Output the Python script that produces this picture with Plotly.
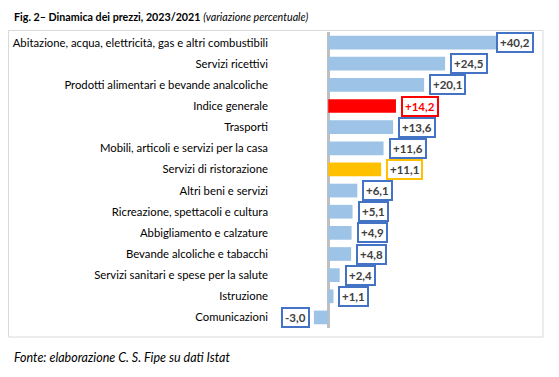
import plotly.graph_objects as go

categories = [
    "Abitazione, acqua, elettricità, gas e altri combustibili",
    "Servizi ricettivi",
    "Prodotti alimentari e bevande analcoliche",
    "Indice generale",
    "Trasporti",
    "Mobili, articoli e servizi per la casa",
    "Servizi di ristorazione",
    "Altri beni e servizi",
    "Ricreazione, spettacoli e cultura",
    "Abbigliamento e calzature",
    "Bevande alcoliche e tabacchi",
    "Servizi sanitari e spese per la salute",
    "Istruzione",
    "Comunicazioni",
]
values = [40.2, 24.5, 20.1, 14.2, 13.6, 11.6, 11.1, 6.1, 5.1, 4.9, 4.8, 2.4, 1.1, -3.0]
labels = ["+40,2", "+24,5", "+20,1", "+14,2", "+13,6", "+11,6", "+11,1",
          "+6,1", "+5,1", "+4,9", "+4,8", "+2,4", "+1,1", "-3,0"]

# page body has an 8px margin: lay out in window pixels, then offset
OFF = 8
W, H = 559 - OFF, 377 - OFF
BLUE = "#9DC3E6"
RED = "#FF0000"
ORANGE = "#FFC000"
BOX = "#4472C4"


def fx(p):
    return (p - OFF) / W


def fy(p):
    return 1 - (p - OFF) / H


bar_colors = []
box_colors = []
text_colors = []
for c in categories:
    if c == "Indice generale":
        bar_colors.append(RED); box_colors.append(RED); text_colors.append(RED)
    elif c == "Servizi di ristorazione":
        bar_colors.append(ORANGE); box_colors.append(ORANGE); text_colors.append("#404040")
    else:
        bar_colors.append(BLUE); box_colors.append(BOX); text_colors.append("#404040")

fig = go.Figure(go.Bar(
    x=values, y=categories, orientation="h",
    marker=dict(color=bar_colors, line=dict(width=0)),
    hoverinfo="skip",
))

px_l, px_r, px_t, px_b = 275, 540, 32, 328
font = "Lato, Open Sans, sans-serif"

annotations = []
for c, v, lab, bc, tc in zip(categories, values, labels, box_colors, text_colors):
    if v < 0:
        anchor, shift = "right", -4
    elif v > 35:
        anchor, shift = "left", -24
    else:
        anchor, shift = "left", 5
    annotations.append(dict(
        x=v, y=c, xref="x", yref="y", text="<b>%s</b>" % lab, showarrow=False,
        xanchor=anchor, xshift=shift, yanchor="middle",
        font=dict(family=font, size=11.5, color=tc),
        bgcolor="white", bordercolor=bc, borderwidth=2, borderpad=2,
    ))

annotations.append(dict(
    x=fx(12), y=1, xref="paper", yref="paper", xanchor="left", yanchor="top",
    text="<b>Fig. 2– Dinamica dei prezzi, 2023/2021</b> <i>(variazione percentuale)</i>",
    showarrow=False, font=dict(family=font, size=10.7, color="black"),
))
annotations.append(dict(
    x=fx(12), y=fy(357), xref="paper", yref="paper", xanchor="left", yanchor="middle",
    text="<i>Fonte: elaborazione C. S. Fipe su dati Istat</i>",
    showarrow=False, font=dict(family=font, size=12.5, color="black"),
))

fig.update_layout(
    width=W, height=H,
    margin=dict(l=0, r=0, t=0, b=0, pad=0),
    paper_bgcolor="white", plot_bgcolor="white",
    showlegend=False, bargap=0.35,
    annotations=annotations,
    shapes=[dict(type="rect", xref="paper", yref="paper",
                 x0=fx(8.5), x1=fx(543), y0=fy(337), y1=fy(30.5),
                 line=dict(color="#D9D9D9", width=1), layer="below")],
    xaxis=dict(domain=[fx(px_l), fx(px_r)], range=[-11.16, 44.4], automargin=False,
               showgrid=False, showticklabels=False, ticks="",
               zeroline=True, zerolinecolor="#BFBFBF", zerolinewidth=2.5),
    yaxis=dict(domain=[fy(px_b), fy(px_t)], autorange="reversed", automargin=False,
               showgrid=False, ticks="", ticklabelstandoff=6,
               tickfont=dict(family=font, size=11.3, color="black")),
)

fig.write_html("out.html")
